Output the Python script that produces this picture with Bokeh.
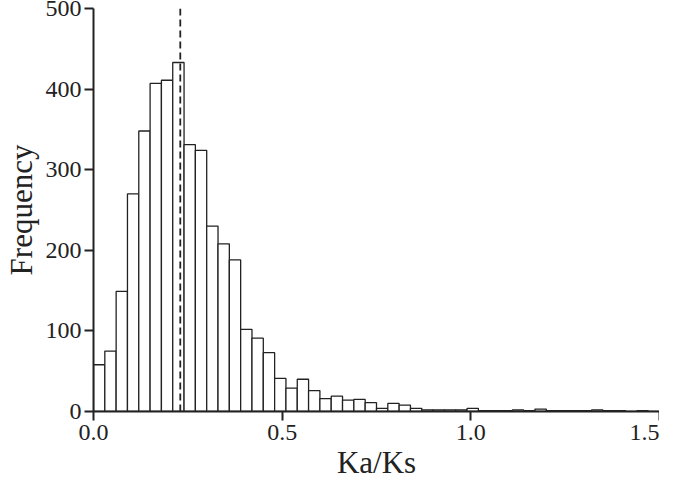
from bokeh.plotting import figure
from bokeh.models import Range1d, FixedTicker, Span, ColumnDataSource
from bokeh.embed import file_html
from bokeh.resources import INLINE

# Histogram of Ka/Ks, bin width 0.03 from 0.0 to 1.5
bin_start = 0.0
bin_width = 0.03
counts = [58, 75, 149, 270, 348, 407, 411, 433, 331, 324,
          230, 208, 188, 102, 91, 73, 41, 29, 40, 26,
          16, 19, 14, 15, 11, 4, 10, 8, 4, 2,
          2, 2, 2, 4, 1, 1, 1, 2, 1, 3,
          1, 1, 1, 1, 2, 1, 1, 0, 1, 0]
median_ka_ks = 0.23
x_ticks = [0.0, 0.5, 1.0, 1.5]
y_ticks = [0, 100, 200, 300, 400, 500]

left = [bin_start + i * bin_width for i in range(len(counts))]
right = [l + bin_width for l in left]
src = ColumnDataSource(dict(left=left, right=right, top=counts, bottom=[0] * len(counts)))

p = figure(width=659, height=490, output_backend="svg", toolbar_location=None,
           x_range=Range1d(0, 1.5), y_range=Range1d(0, 500),
           min_border_left=86, min_border_right=0, min_border_top=8, min_border_bottom=79)
p.outline_line_color = None
p.xgrid.grid_line_color = None
p.ygrid.grid_line_color = None
p.background_fill_color = "white"
p.border_fill_color = "white"

p.quad(left="left", right="right", top="top", bottom="bottom", source=src,
       fill_color="white", line_color="#222222", line_width=1.3)

p.add_layout(Span(location=median_ka_ks, dimension="height", line_color="#222222",
                  line_width=1.8, line_dash="7 4"))

font = "Liberation Serif"
for ax in (p.xaxis[0], p.yaxis[0]):
    ax.axis_line_width = 2
    ax.axis_line_color = "#222222"
    ax.major_tick_line_width = 2
    ax.major_tick_line_color = "#222222"
    ax.major_tick_in = 0
    ax.major_tick_out = 9
    ax.minor_tick_line_color = None
    ax.major_label_text_font = font
    ax.major_label_text_font_size = "24px"
    ax.major_label_text_color = "#222222"
    ax.axis_label_text_font = font
    ax.axis_label_text_font_size = "31px"
    ax.axis_label_text_font_style = "normal"
    ax.axis_label_text_color = "#222222"

p.xaxis.ticker = FixedTicker(ticks=x_ticks)
p.xaxis.major_label_overrides = {t: f"{t:.1f}" for t in x_ticks}
p.yaxis.ticker = FixedTicker(ticks=y_ticks)
p.xaxis.axis_label = "Ka/Ks"
p.yaxis.axis_label = "Frequency"
p.xaxis.major_label_standoff = 4
p.yaxis.major_label_standoff = 3
p.xaxis.axis_label_standoff = 2
p.yaxis.axis_label_standoff = 4

open("out.html", "w").write(file_html(p, INLINE))
